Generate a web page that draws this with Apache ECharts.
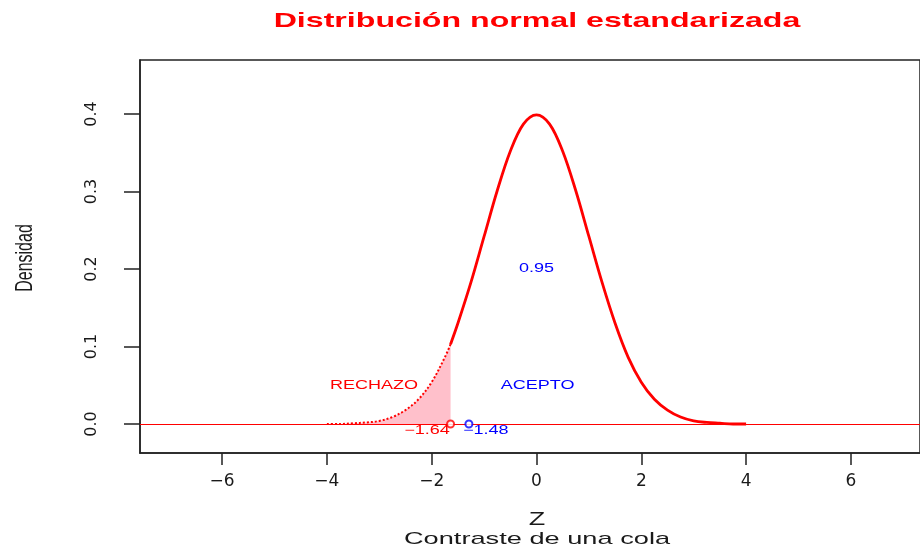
<!DOCTYPE html>
<html>
<head>
<meta charset="utf-8">
<script src="https://cdn.jsdelivr.net/npm/echarts@6/dist/echarts.min.js"></script>
<style>
  html, body { margin: 0; padding: 0; background: #fff; }
  #chart { width: 920px; height: 546px; }
</style>
</head>
<body>
<div id="chart"></div>
<script>
// densidad, z de -4 a 4 cada 0.25
const zValues = [-4, -3.75, -3.5, -3.25, -3, -2.75, -2.5, -2.25, -2, -1.75, -1.5, -1.25, -1, -0.75, -0.5, -0.25,
  0, 0.25, 0.5, 0.75, 1, 1.25, 1.5, 1.75, 2, 2.25, 2.5, 2.75, 3, 3.25, 3.5, 3.75, 4];
const densValues = [0.000, 0.000, 0.001, 0.002, 0.004, 0.009, 0.018, 0.032, 0.054, 0.086, 0.130, 0.183, 0.242, 0.301, 0.352, 0.387,
  0.399, 0.387, 0.352, 0.301, 0.242, 0.183, 0.130, 0.086, 0.054, 0.032, 0.018, 0.009, 0.004, 0.002, 0.001, 0.000, 0.000];

// valor critico y estadistico
const critZ = -1.64;
const critDens = 0.103;
const statZ = -1.29;

// ticks
const xTicks = [-6, -4, -2, 0, 2, 4, 6];
const yTicks = [0, 0.1, 0.2, 0.3, 0.4];

// textos del grafico
const redTexts = ['RECHAZO', '\u22121.64'];
const redTextZ = [-3.1, -2.09];
const redTextY = [0.049, -0.009];
const blueTexts = ['ACEPTO', '0.95', '\u22121.48'];
const blueTextZ = [0.02, 0.0, -0.97];
const blueTextY = [0.049, 0.2, -0.009];

const RED = '#ff0000';
const BLUE = '#0000ff';
const PINK = '#ffc0cb';
const STRETCH = 1.5;

const chart = echarts.init(document.getElementById('chart'));

// cola izquierda (zona de rechazo) y resto de la curva
const tailData = [];
const bodyData = [[critZ, critDens]];
zValues.forEach((z, i) => {
  if (z < critZ) tailData.push([z, densValues[i]]);
  else bodyData.push([z, densValues[i]]);
});
tailData.push([critZ, critDens]);

function textSeries(texts, xs, ys, color) {
  return {
    type: 'custom',
    silent: true,
    z: 10,
    data: xs.map((x, i) => [x, ys[i]]),
    renderItem: (params, api) => {
      const p = api.coord([api.value(0), api.value(1)]);
      return {
        type: 'text',
        x: p[0],
        y: p[1],
        scaleX: STRETCH,
        style: {
          text: texts[params.dataIndex],
          fill: color,
          fontSize: 12,
          fontFamily: '"Liberation Sans", Arial, sans-serif',
          align: 'center',
          verticalAlign: 'middle'
        }
      };
    }
  };
}

const axisFont = '"DejaVu Sans", sans-serif';

const option = {
  animation: false,
  backgroundColor: '#fff',
  grid: { left: 140, top: 60, right: 0, bottom: 93, show: true, borderColor: '#222', borderWidth: 1.5 },
  graphic: [
    {
      type: 'text', x: 537, y: 21, scaleX: 1.53,
      style: { text: 'Distribución normal estandarizada', fill: RED, fontSize: 21, fontWeight: 'bold',
        fontFamily: '"Liberation Sans", Arial, sans-serif', align: 'center', verticalAlign: 'middle' }
    },
    {
      type: 'text', x: 537, y: 520, scaleX: STRETCH,
      style: { text: 'Z', fill: '#1a1a1a', fontSize: 18,
        fontFamily: '"Liberation Sans", Arial, sans-serif', align: 'center', verticalAlign: 'middle' }
    },
    {
      type: 'text', x: 537, y: 539, scaleX: 1.6,
      style: { text: 'Contraste de una cola', fill: '#1a1a1a', fontSize: 17,
        fontFamily: '"Liberation Sans", Arial, sans-serif', align: 'center', verticalAlign: 'middle' }
    },
    {
      type: 'text', x: 25, y: 258, rotation: Math.PI / 2, scaleY: STRETCH,
      style: { text: 'Densidad', fill: '#1a1a1a', fontSize: 16,
        fontFamily: '"Liberation Sans", Arial, sans-serif', align: 'center', verticalAlign: 'middle' }
    }
  ],
  xAxis: {
    type: 'value',
    min: -7.567,
    max: 7.319,
    splitLine: { show: false },
    axisLine: { show: true, onZero: false, lineStyle: { color: '#222', width: 1.5 } },
    axisTick: { show: true, customValues: xTicks, length: 12, lineStyle: { color: '#222', width: 1.5 } },
    axisLabel: {
      customValues: xTicks,
      margin: 20,
      fontSize: 17,
      fontFamily: axisFont,
      color: '#1a1a1a',
      formatter: v => String(v).replace('-', '\u2212')
    }
  },
  yAxis: {
    type: 'value',
    min: -0.0374,
    max: 0.4697,
    splitLine: { show: false },
    axisLine: { show: true, onZero: false, lineStyle: { color: '#222', width: 1.5 } },
    axisTick: { show: true, customValues: yTicks, length: 16, lineStyle: { color: '#222', width: 1.5 } },
    axisLabel: {
      customValues: yTicks,
      rotate: 90,
      margin: 40,
      fontSize: 16,
      fontFamily: axisFont,
      color: '#1a1a1a',
      formatter: v => v.toFixed(1)
    }
  },
  series: [
    {
      name: 'rechazo',
      type: 'line',
      data: tailData,
      smooth: 0.35,
      symbol: 'none',
      z: 3,
      lineStyle: { color: RED, width: 2, type: 'dotted' },
      areaStyle: { color: PINK, opacity: 1 },
      markLine: {
        silent: true,
        symbol: 'none',
        label: { show: false },
        lineStyle: { color: RED, width: 1, type: 'solid' },
        data: [{ yAxis: 0 }]
      }
    },
    {
      name: 'densidad',
      type: 'line',
      data: bodyData,
      smooth: 0.35,
      symbol: 'none',
      z: 4,
      lineStyle: { color: RED, width: 2.8 }
    },
    {
      type: 'scatter',
      data: [[critZ, 0]],
      symbol: 'emptyCircle',
      symbolSize: 7,
      z: 6,
      itemStyle: { color: RED, borderColor: RED, borderWidth: 1.5 }
    },
    {
      type: 'scatter',
      data: [[statZ, 0]],
      symbol: 'emptyCircle',
      symbolSize: 7,
      z: 6,
      itemStyle: { color: BLUE, borderColor: BLUE, borderWidth: 1.5 }
    },
    textSeries(redTexts, redTextZ, redTextY, RED),
    textSeries(blueTexts, blueTextZ, blueTextY, BLUE)
  ]
};

chart.setOption(option);
window.addEventListener('resize', () => chart.resize());
</script>
</body>
</html>
